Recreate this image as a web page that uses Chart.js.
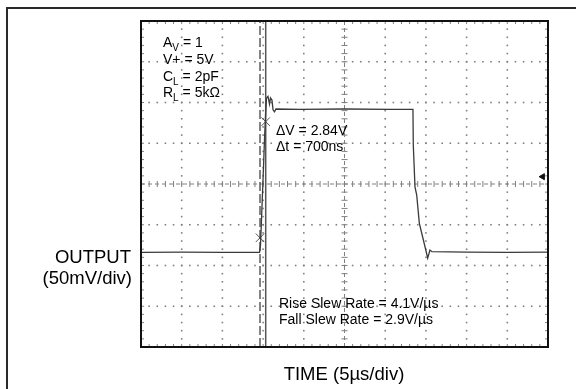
<!DOCTYPE html>
<html><head><meta charset="utf-8">
<script src="https://cdn.jsdelivr.net/npm/chart.js@4/dist/chart.umd.min.js"></script>
<style>html,body{margin:0;padding:0;background:#fff;}#wrap{position:relative;width:576px;height:389px;}</style>
</head><body><div id="wrap"><canvas id="c" width="576" height="389"></canvas></div>
<script>
// Time in µs (5 µs/div, 10 divisions), output in V (1 V per graticule division, 8 divisions)
const timeUs  = [0, 5, 10, 14.56, 14.68, 14.80, 14.99, 15.17, 15.30, 15.42, 15.60, 15.79, 15.91, 16.09, 16.22, 16.40, 16.58, 19.5, 25.0, 30.6, 33.41, 33.45, 33.66, 33.87, 34.19, 34.89, 35.22, 35.50, 35.75, 40, 45, 50];
const outputV = [2.32, 2.33, 2.32, 2.32, 2.50, 3.12, 4.10, 5.08, 5.69, 6.11, 6.15, 5.96, 6.11, 6.06, 5.82, 5.77, 5.84, 5.83, 5.84, 5.83, 5.83, 4.96, 3.93, 3.73, 3.04, 2.46, 2.18, 2.38, 2.34, 2.33, 2.32, 2.33];
const cursorTimesUs = [14.62, 15.32];
const cursorMarkV   = [2.68, 5.53];
const triggerTimeUs = [49.34];
const triggerV      = [4.18];
const xMin = 0, xMax = 50, xDiv = 5, xMinor = 1;
const yMin = 0, yMax = 8, yDiv = 1, yMinor = 0.2;
const conditions = [["A","V"," = 1"],["V+ = 5V","",""],["C","L"," = 2pF"],["R","L"," = 5kΩ"]];
const cursorText = ["ΔV = 2.84V", "Δt = 700ns"];
const slewText = ["Rise Slew Rate = 4.1V/µs", "Fall Slew Rate = 2.9V/µs"];
const yTitle = ["OUTPUT", "(50mV/div)"];
const xTitle = "TIME (5µs/div)";

const FONT = '"Liberation Sans", Arial, Helvetica, sans-serif';

function line(ctx, x1, y1, x2, y2){ ctx.beginPath(); ctx.moveTo(x1,y1); ctx.lineTo(x2,y2); ctx.stroke(); }

const graticule = {
  id: 'graticule',
  beforeDraw(chart){
    const ctx = chart.ctx;
    ctx.save();
    ctx.fillStyle = '#fff'; ctx.fillRect(0,0,chart.width,chart.height);
    ctx.strokeStyle = '#2a2a2a'; ctx.lineWidth = 2;
    ctx.beginPath(); ctx.moveTo(7, chart.height + 5); ctx.lineTo(7, 8); ctx.lineTo(chart.width + 5, 8); ctx.stroke();
    ctx.restore();
  },
  beforeDatasetsDraw(chart){
    const {ctx, chartArea:a, scales:{x, y}} = chart;
    ctx.save();
    const eps = 1e-6;
    ctx.fillStyle = '#808080';
    for (let t = xMin + xDiv; t < xMax - eps; t += xDiv){
      if (Math.abs(t - (xMin+xMax)/2) < eps) continue;
      const px = x.getPixelForValue(t);
      for (let v = yMin; v <= yMax + eps; v += yMinor){
        const py = y.getPixelForValue(v); ctx.fillRect(px-0.8, py-0.8, 1.6, 1.6);
      }
    }
    for (let v = yMin + yDiv; v < yMax - eps; v += yDiv){
      if (Math.abs(v - (yMin+yMax)/2) < eps) continue;
      const py = y.getPixelForValue(v);
      for (let t = xMin; t <= xMax + eps; t += xMinor){
        const px = x.getPixelForValue(t); ctx.fillRect(px-0.8, py-0.8, 1.6, 1.6);
      }
    }
    ctx.strokeStyle = '#808080'; ctx.lineWidth = 1;
    const cy = y.getPixelForValue((yMin+yMax)/2), cx = x.getPixelForValue((xMin+xMax)/2);
    ctx.setLineDash([4,3]);
    line(ctx, a.left, cy, a.right, cy);
    line(ctx, cx, a.top, cx, a.bottom);
    ctx.setLineDash([]);
    for (let t = xMin; t <= xMax + eps; t += xMinor){
      const px = x.getPixelForValue(t);
      line(ctx, px, cy-3, px, cy+3);
      line(ctx, px, a.top, px, a.top+3);
      line(ctx, px, a.bottom-3, px, a.bottom);
    }
    for (let v = yMin; v <= yMax + eps; v += yMinor){
      const py = y.getPixelForValue(v);
      line(ctx, cx-3, py, cx+3, py);
      line(ctx, a.left, py, a.left+3, py);
      line(ctx, a.right-3, py, a.right, py);
    }
    ctx.restore();
  },
  afterDatasetsDraw(chart){
    const {ctx, chartArea:a} = chart;
    ctx.save();
    ctx.strokeStyle = '#111'; ctx.lineWidth = 2;
    ctx.strokeRect(a.left, a.top, a.right - a.left, a.bottom - a.top);
    ctx.fillStyle = '#000';
    ctx.textBaseline = 'alphabetic';
    let by = a.top + 26.3;
    conditions.forEach(c => {
      let px = a.left + 22;
      ctx.font = '14px ' + FONT; ctx.textAlign = 'left';
      ctx.fillText(c[0], px, by); px += ctx.measureText(c[0]).width;
      if (c[1]){ ctx.font = '10px ' + FONT; ctx.fillText(c[1], px, by + 4); px += ctx.measureText(c[1]).width; }
      ctx.font = '14px ' + FONT; ctx.fillText(c[2], px, by);
      by += 16.7;
    });
    ctx.font = '14px ' + FONT;
    ctx.fillText(cursorText[0], 276, 135);
    ctx.fillText(cursorText[1], 276, 151);
    ctx.fillText(slewText[0], 279, 308.3);
    ctx.fillText(slewText[1], 279, 324.3);
    ctx.font = '18.5px ' + FONT;
    ctx.textAlign = 'right';
    ctx.fillText(yTitle[0], 131, 262.5);
    ctx.fillText(yTitle[1], 132, 283.5);
    ctx.textAlign = 'center';
    ctx.fillText(xTitle, 344, 380);
    ctx.restore();
  }
};

new Chart(document.getElementById('c'), {
  type: 'scatter',
  data: {
    datasets: [
      { label: 'Output', data: timeUs.map((t,i)=>({x:t, y:outputV[i]})), showLine: true, borderColor: '#3a3a3a', borderWidth: 1.3, pointRadius: 0, tension: 0 },
      { label: 'Cursor 1', data: [{x:cursorTimesUs[0], y:yMin}, {x:cursorTimesUs[0], y:yMax}], showLine: true, borderColor: '#333', borderWidth: 1.2, borderDash: [9,3], pointRadius: 0 },
      { label: 'Cursor 2', data: [{x:cursorTimesUs[1], y:yMin}, {x:cursorTimesUs[1], y:yMax}], showLine: true, borderColor: '#555', borderWidth: 1.5, pointRadius: 0 },
      { label: 'Cursor marks', data: cursorTimesUs.map((t,i)=>({x:t, y:cursorMarkV[i]})), showLine: false, pointStyle: 'crossRot', pointRadius: 6, borderColor: '#555', borderWidth: 1 },
      { label: 'Trigger', data: triggerTimeUs.map((t,i)=>({x:t, y:triggerV[i]})), showLine: false, pointStyle: 'triangle', rotation: -90, pointRadius: 3.5, backgroundColor: '#111', borderColor: '#111', borderWidth: 1 }
    ]
  },
  options: {
    responsive: false, animation: false, events: [],
    layout: { padding: { left: 141, top: 21, right: 28, bottom: 42 } },
    plugins: { legend: { display: false }, tooltip: { enabled: false } },
    scales: {
      x: { type: 'linear', min: xMin, max: xMax, display: false },
      y: { type: 'linear', min: yMin, max: yMax, display: false }
    }
  },
  plugins: [graticule]
});
</script>
</body></html>
